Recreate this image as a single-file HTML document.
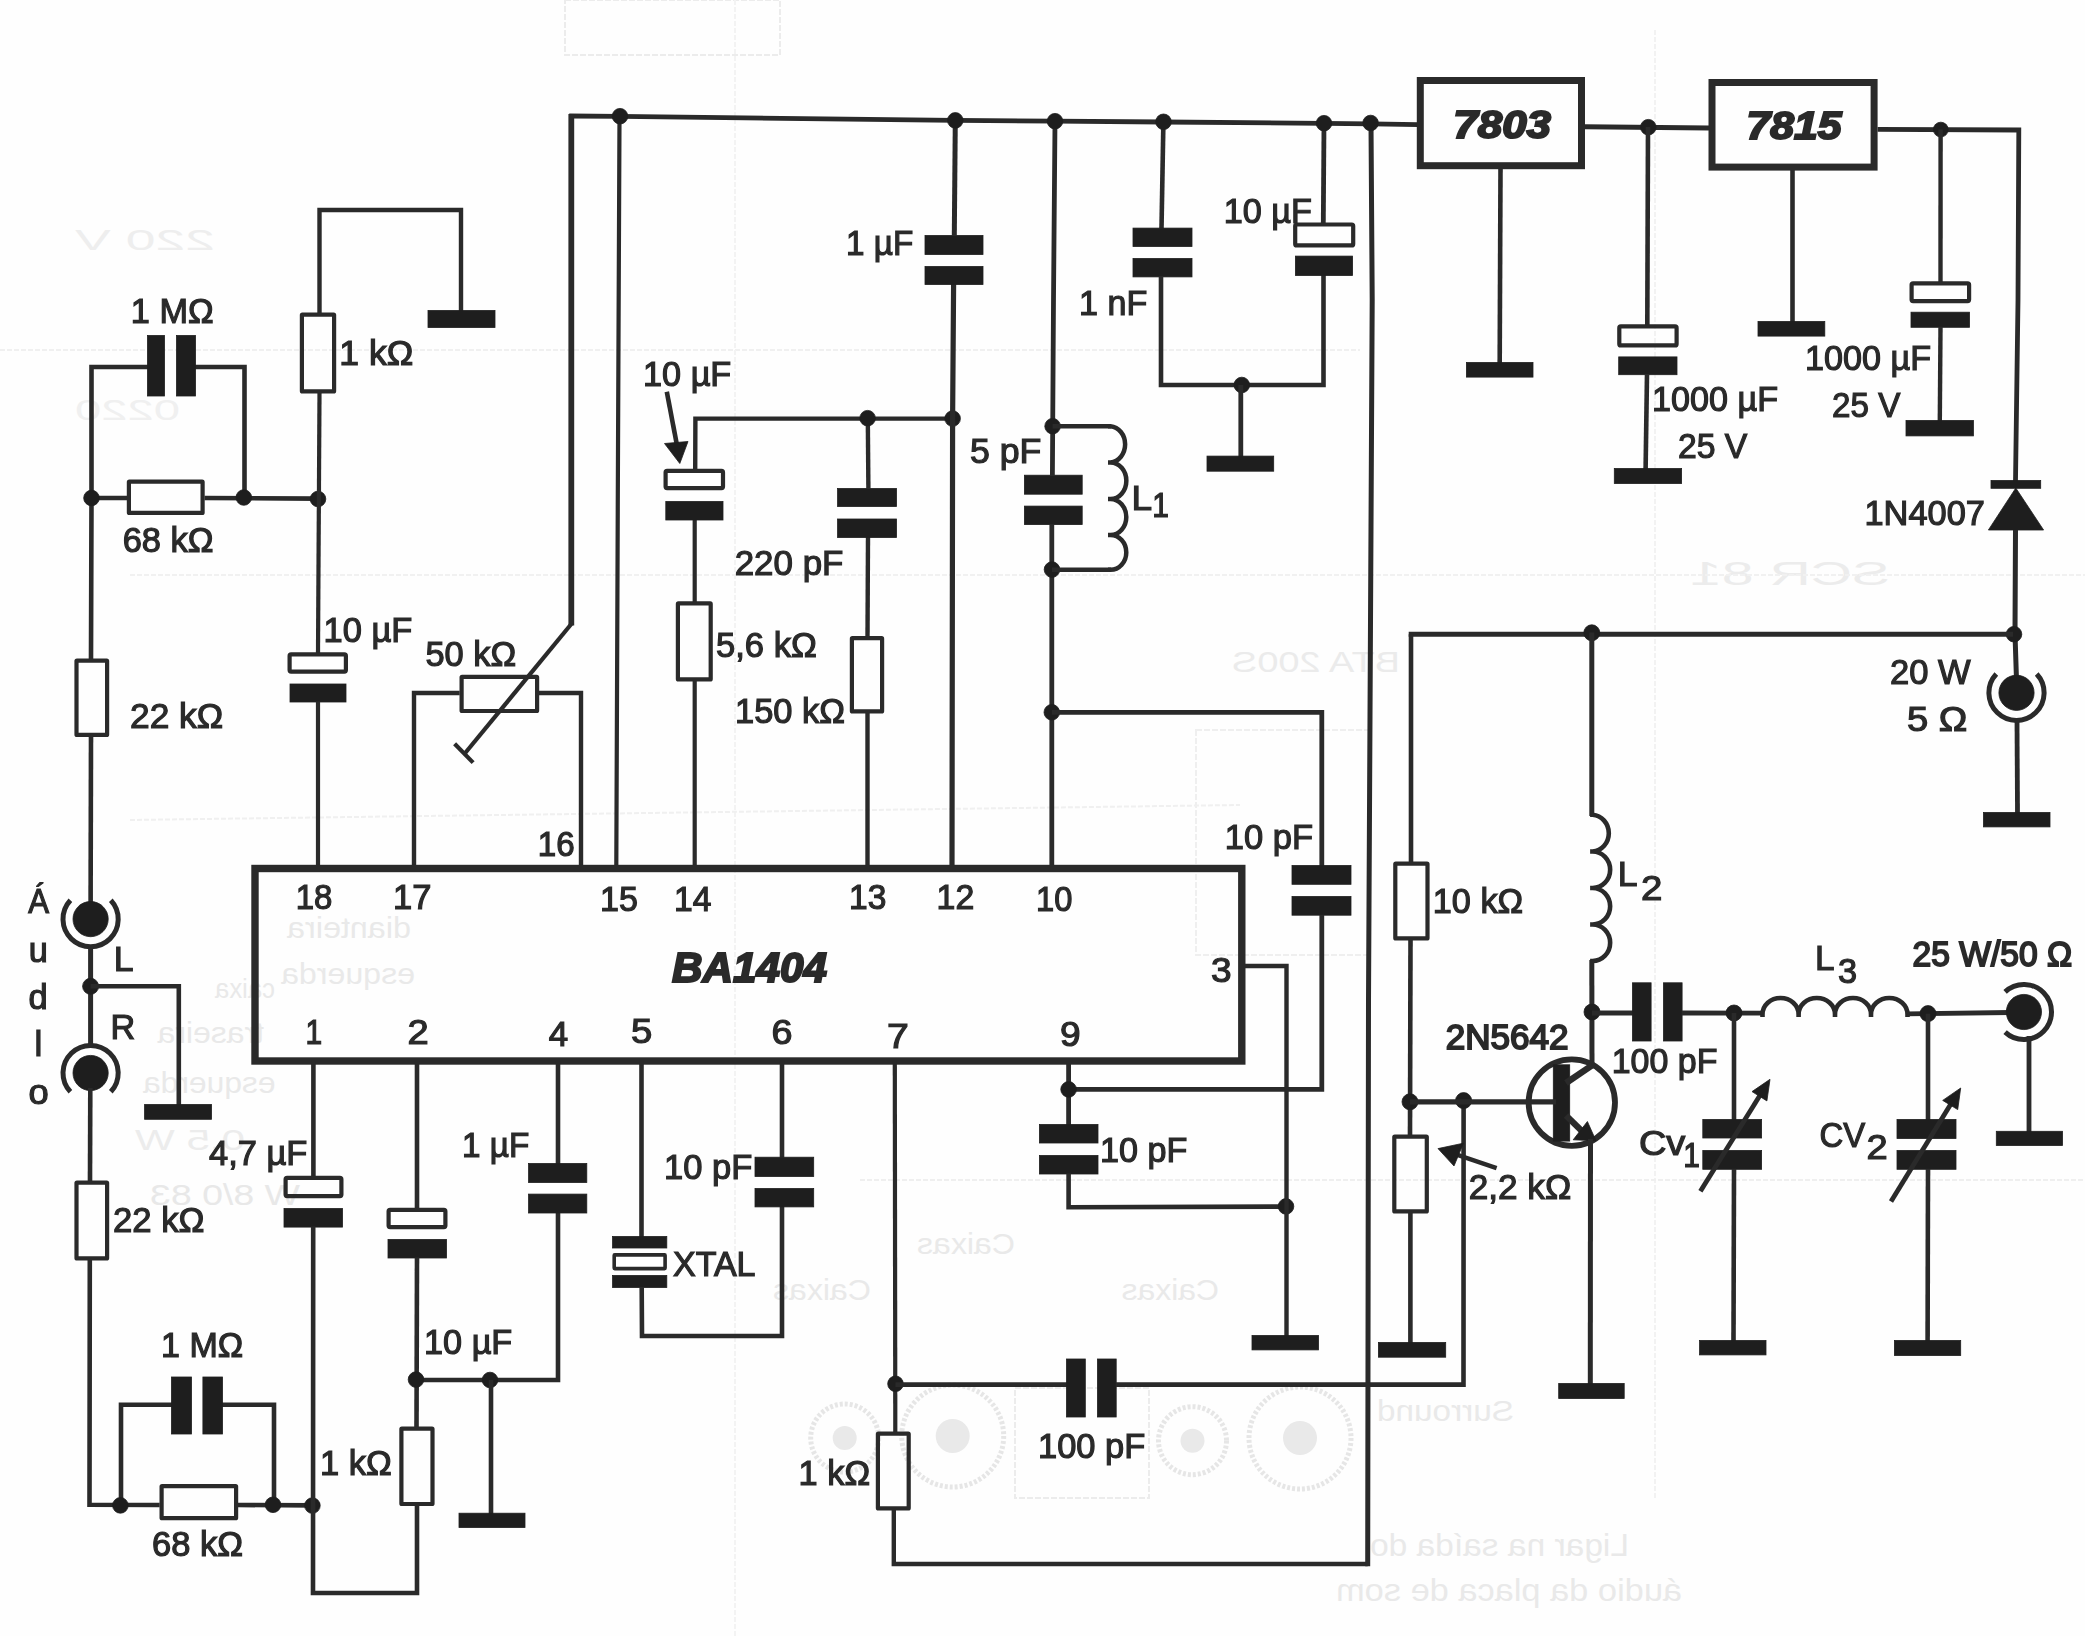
<!DOCTYPE html>
<html><head><meta charset="utf-8"><title>BA1404 FM stereo transmitter schematic</title>
<style>
html,body{margin:0;padding:0;background:#fff;}
body{width:2085px;height:1636px;overflow:hidden;font-family:"Liberation Sans",sans-serif;}
svg{display:block}
svg path,svg rect.h,svg circle.h{fill:none;stroke:#2a2a2a}
svg .f{fill:#1e1e1e;stroke:#1e1e1e;stroke-width:0.8}
svg rect.h{fill:none}
#ghost text{stroke:none}
#wires,#labels{filter:blur(0.45px)}
svg text{font-family:"Liberation Sans",sans-serif;fill:#2a2a2a;stroke:#2a2a2a;}
svg .t{font-size:35px;stroke-width:1.2px}
svg .tk{stroke-width:1.9px}
svg .tb2{font-size:39px !important}
svg .tb{font-size:42px;font-weight:bold;font-style:italic;stroke-width:2.1px}
</style></head><body>
<svg width="2085" height="1636" viewBox="0 0 2085 1636">
<rect x="0" y="0" width="2085" height="1636" fill="#fefefe"/>
<g id="ghost" style="font-family:'Liberation Sans',sans-serif">
<circle cx="844.7" cy="1438.0" r="34.0" style="fill:none;stroke:#e6e6e6;stroke-width:5;stroke-dasharray:3 2"/>
<circle cx="844.7" cy="1438.0" r="12.0" style="fill:#e9e9e9;stroke:none"/>
<circle cx="952.7" cy="1436.0" r="51.0" style="fill:none;stroke:#e6e6e6;stroke-width:5;stroke-dasharray:3 2"/>
<circle cx="952.7" cy="1436.0" r="17.0" style="fill:#e9e9e9;stroke:none"/>
<circle cx="1192.5" cy="1440.7" r="34.0" style="fill:none;stroke:#e6e6e6;stroke-width:5;stroke-dasharray:3 2"/>
<circle cx="1192.5" cy="1440.7" r="12.0" style="fill:#e9e9e9;stroke:none"/>
<circle cx="1300.0" cy="1438.0" r="51.0" style="fill:none;stroke:#e6e6e6;stroke-width:5;stroke-dasharray:3 2"/>
<circle cx="1300.0" cy="1438.0" r="17.0" style="fill:#e9e9e9;stroke:none"/>
<text transform="translate(1514.0 1421.0) scale(-1 1)" textLength="137.0" lengthAdjust="spacingAndGlyphs" style="font-size:30px;fill:#e9e9e9;stroke:none">Surround</text>
<text transform="translate(1629.0 1556.0) scale(-1 1)" textLength="259.0" lengthAdjust="spacingAndGlyphs" style="font-size:32px;fill:#e9e9e9;stroke:none">Ligar na saída do</text>
<text transform="translate(1682.0 1601.0) scale(-1 1)" textLength="346.0" lengthAdjust="spacingAndGlyphs" style="font-size:32px;fill:#e9e9e9;stroke:none">áudio da placa de som</text>
<text transform="translate(411.0 937.7) scale(-1 1)" textLength="124.0" lengthAdjust="spacingAndGlyphs" style="font-size:30px;fill:#e9e9e9;stroke:none">dianteira</text>
<text transform="translate(415.0 983.7) scale(-1 1)" textLength="134.0" lengthAdjust="spacingAndGlyphs" style="font-size:30px;fill:#e9e9e9;stroke:none">esquerda</text>
<text transform="translate(275.0 998.0) scale(-1 1)" textLength="60.0" lengthAdjust="spacingAndGlyphs" style="font-size:28px;fill:#e9e9e9;stroke:none">caixa</text>
<text transform="translate(264.0 1043.0) scale(-1 1)" textLength="106.5" lengthAdjust="spacingAndGlyphs" style="font-size:30px;fill:#e9e9e9;stroke:none">traseira</text>
<text transform="translate(275.5 1093.0) scale(-1 1)" textLength="132.5" lengthAdjust="spacingAndGlyphs" style="font-size:30px;fill:#e9e9e9;stroke:none">esquerda</text>
<text transform="translate(1015.0 1254.0) scale(-1 1)" textLength="98.0" lengthAdjust="spacingAndGlyphs" style="font-size:30px;fill:#e9e9e9;stroke:none">Caixas</text>
<text transform="translate(871.0 1300.0) scale(-1 1)" textLength="98.0" lengthAdjust="spacingAndGlyphs" style="font-size:30px;fill:#e9e9e9;stroke:none">Caixas</text>
<text transform="translate(1219.0 1300.0) scale(-1 1)" textLength="97.5" lengthAdjust="spacingAndGlyphs" style="font-size:30px;fill:#e9e9e9;stroke:none">Caixas</text>
<text transform="translate(245.0 1150.0) scale(-1 1)" textLength="110.0" lengthAdjust="spacingAndGlyphs" style="font-size:30px;fill:#ececec;stroke:none">0,5 W</text>
<text transform="translate(300.0 1205.0) scale(-1 1)" textLength="150.0" lengthAdjust="spacingAndGlyphs" style="font-size:30px;fill:#e8e8e8;stroke:none">W 8/0 83</text>
<text transform="translate(1400.0 672.0) scale(-1 1)" textLength="168.0" lengthAdjust="spacingAndGlyphs" style="font-size:30px;fill:#ebebeb;stroke:none">BTA 200S</text>
<text transform="translate(1890.0 585.0) scale(-1 1)" textLength="200.0" lengthAdjust="spacingAndGlyphs" style="font-size:34px;fill:#ececec;stroke:none">SCR 81</text>
<text transform="translate(215.0 250.0) scale(-1 1)" textLength="140.0" lengthAdjust="spacingAndGlyphs" style="font-size:30px;fill:#eeeeee;stroke:none">220 V</text>
<text transform="translate(180.0 420.0) scale(-1 1)" textLength="105.0" lengthAdjust="spacingAndGlyphs" style="font-size:30px;fill:#f0f0f0;stroke:none">0220</text>
<rect x="565.0" y="0.0" width="215.0" height="55.0" style="fill:none;stroke:#ececec;stroke-width:2.0;stroke-dasharray:6 2"/>
<rect x="1015.0" y="1388.0" width="134.0" height="110.0" style="fill:none;stroke:#ececec;stroke-width:2.0;stroke-dasharray:6 2"/>
<rect x="1196.0" y="730.0" width="174.0" height="225.0" style="fill:none;stroke:#efefef;stroke-width:2.0;stroke-dasharray:6 2"/>
<path d="M0.0 350.0 L1360.0 350.0" style="fill:none;stroke:#f0f0f0;stroke-width:2.0;stroke-dasharray:5 2"/>
<path d="M130.0 575.0 L2085.0 575.0" style="fill:none;stroke:#f1f1f1;stroke-width:2.0;stroke-dasharray:5 2"/>
<path d="M735.0 0.0 L735.0 1636.0" style="fill:none;stroke:#f3f3f3;stroke-width:2.0;stroke-dasharray:5 2"/>
<path d="M1655.0 30.0 L1655.0 1500.0" style="fill:none;stroke:#f2f2f2;stroke-width:2.0;stroke-dasharray:5 2"/>
<path d="M130.0 820.0 L1240.0 805.0" style="fill:none;stroke:#f0f0f0;stroke-width:2.0;stroke-dasharray:5 2"/>
<path d="M860.0 1180.0 L2085.0 1180.0" style="fill:none;stroke:#efefef;stroke-width:2.0;stroke-dasharray:5 2"/>
</g>
<g id="wires">
<path d="M569.2 116.0 L620.0 116.4 L955.0 120.4 L1055.0 121.2 L1163.0 122.0 L1324.0 123.3 L1371.0 123.8 L1418.0 124.6" stroke-width="4.8" stroke-linecap="butt" stroke-linejoin="miter"/>
<path d="M571.3 114.0 L571.3 625.5" stroke-width="5.8" stroke-linecap="butt" stroke-linejoin="miter"/>
<path d="M619.5 116.0 L618.0 450.0 L616.3 866.0" stroke-width="4.2" stroke-linecap="butt" stroke-linejoin="miter"/>
<circle cx="620.0" cy="116.2" r="7.8" class="f"/>
<path d="M148.0 367.0 L91.5 367.0 L91.5 498.0 L91.0 659.0" stroke-width="4.6" stroke-linecap="butt" stroke-linejoin="miter"/>
<path d="M195.0 367.0 L244.5 367.0 L244.5 497.0" stroke-width="4.6" stroke-linecap="butt" stroke-linejoin="miter"/>
<path d="M91.5 498.0 L127.0 498.0" stroke-width="4.6" stroke-linecap="butt" stroke-linejoin="miter"/>
<path d="M204.5 498.0 L318.0 498.6" stroke-width="4.6" stroke-linecap="butt" stroke-linejoin="miter"/>
<rect x="147.5" y="335.5" width="17.0" height="60.5" class="f"/>
<rect x="176.5" y="335.5" width="19.0" height="60.5" class="f"/>
<rect x="128.9" y="481.6" width="73.7" height="31.3" rx="0.5" stroke-width="4.2" class="h"/>
<circle cx="91.5" cy="498.0" r="7.8" class="f"/>
<circle cx="243.8" cy="497.5" r="7.8" class="f"/>
<circle cx="318.0" cy="499.0" r="7.8" class="f"/>
<rect x="76.5" y="660.6" width="30.6" height="74.3" rx="0.5" stroke-width="4.2" class="h"/>
<path d="M91.0 736.5 L90.6 905.0" stroke-width="4.6" stroke-linecap="butt" stroke-linejoin="miter"/>
<path d="M319.5 313.0 L319.5 210.0 L461.0 210.0 L461.0 312.0" stroke-width="4.4" stroke-linecap="butt" stroke-linejoin="miter"/>
<rect x="428.0" y="310.5" width="67.0" height="17.0" class="f"/>
<rect x="301.9" y="314.6" width="32.2" height="76.8" rx="0.5" stroke-width="4.2" class="h"/>
<path d="M319.5 393.0 L318.0 653.5" stroke-width="4.2" stroke-linecap="butt" stroke-linejoin="miter"/>
<rect x="289.6" y="654.4" width="56.3" height="17.2" rx="1.5" stroke-width="4.2" class="h"/>
<rect x="290.0" y="684.0" width="56.0" height="18.0" class="f"/>
<path d="M318.0 701.5 L318.0 866.0" stroke-width="4.2" stroke-linecap="butt" stroke-linejoin="miter"/>
<path d="M414.0 866.0 L414.0 693.0 L459.7 693.0" stroke-width="4.4" stroke-linecap="butt" stroke-linejoin="miter"/>
<rect x="461.6" y="676.8" width="75.5" height="34.2" rx="0.5" stroke-width="4.2" class="h"/>
<path d="M539.0 693.0 L581.0 693.0 L581.0 866.0" stroke-width="4.4" stroke-linecap="butt" stroke-linejoin="miter"/>
<path d="M571.3 624.0 L465.2 753.0" stroke-width="4.2" stroke-linecap="butt" stroke-linejoin="miter"/>
<path d="M454.6 743.8 L473.1 762.6" stroke-width="4.2" stroke-linecap="butt" stroke-linejoin="miter"/>
<circle cx="90.6" cy="919.1" r="17.6" class="f"/>
<path d="M110.8 900.3 A27.6 27.6 0 1 1 70.4 900.3" stroke-width="5.0"/>
<circle cx="90.6" cy="1073.0" r="17.6" class="f"/>
<path d="M70.4 1091.8 A27.6 27.6 0 1 1 110.8 1091.8" stroke-width="5.0"/>
<path d="M90.6 946.0 L90.6 1046.0" stroke-width="5.0" stroke-linecap="butt" stroke-linejoin="miter"/>
<circle cx="90.6" cy="986.3" r="8.0" class="f"/>
<path d="M90.6 986.3 L178.8 986.3 L178.8 1106.0" stroke-width="4.6" stroke-linecap="butt" stroke-linejoin="miter"/>
<rect x="144.6" y="1104.5" width="66.9" height="14.8" class="f"/>
<path d="M90.3 1088.0 L90.0 1181.0" stroke-width="4.6" stroke-linecap="butt" stroke-linejoin="miter"/>
<rect x="76.5" y="1182.6" width="30.6" height="75.8" rx="0.5" stroke-width="4.2" class="h"/>
<path d="M89.8 1260.0 L89.5 1504.8 L159.7 1505.0" stroke-width="4.6" stroke-linecap="butt" stroke-linejoin="miter"/>
<path d="M238.0 1505.0 L313.0 1505.4" stroke-width="4.6" stroke-linecap="butt" stroke-linejoin="miter"/>
<rect x="161.6" y="1486.1" width="74.5" height="32.1" rx="0.5" stroke-width="4.2" class="h"/>
<path d="M172.0 1404.8 L121.0 1404.8 L121.0 1505.0" stroke-width="4.6" stroke-linecap="butt" stroke-linejoin="miter"/>
<path d="M222.0 1404.8 L274.0 1404.8 L274.0 1505.0" stroke-width="4.6" stroke-linecap="butt" stroke-linejoin="miter"/>
<rect x="171.5" y="1377.0" width="20.0" height="57.0" class="f"/>
<rect x="202.9" y="1377.0" width="19.6" height="57.0" class="f"/>
<circle cx="120.4" cy="1505.4" r="7.8" class="f"/>
<circle cx="273.0" cy="1504.8" r="7.8" class="f"/>
<circle cx="312.4" cy="1505.6" r="7.8" class="f"/>
<rect x="255" y="868.5" width="986.8" height="192.5" stroke-width="7.4" class="h"/>
<path d="M313.4 1061.0 L313.4 1177.0" stroke-width="4.6" stroke-linecap="butt" stroke-linejoin="miter"/>
<rect x="285.6" y="1177.9" width="55.8" height="18.2" rx="1.5" stroke-width="4.2" class="h"/>
<rect x="284.0" y="1208.5" width="58.5" height="18.6" class="f"/>
<path d="M313.2 1226.6 L313.0 1593.0 L417.0 1593.0 L417.0 1505.0" stroke-width="4.6" stroke-linecap="butt" stroke-linejoin="miter"/>
<path d="M417.0 1061.0 L417.0 1209.0" stroke-width="4.6" stroke-linecap="butt" stroke-linejoin="miter"/>
<rect x="388.6" y="1209.9" width="56.8" height="17.2" rx="1.5" stroke-width="4.2" class="h"/>
<rect x="388.0" y="1239.5" width="58.5" height="18.5" class="f"/>
<path d="M417.0 1257.5 L416.5 1427.0" stroke-width="4.6" stroke-linecap="butt" stroke-linejoin="miter"/>
<rect x="401.4" y="1428.6" width="31.1" height="75.4" rx="0.5" stroke-width="4.2" class="h"/>
<path d="M416.0 1380.0 L558.0 1380.0 L558.0 1212.5" stroke-width="4.6" stroke-linecap="butt" stroke-linejoin="miter"/>
<circle cx="416.0" cy="1379.6" r="7.8" class="f"/>
<circle cx="490.0" cy="1380.0" r="7.8" class="f"/>
<path d="M491.0 1380.0 L491.0 1514.5" stroke-width="4.6" stroke-linecap="butt" stroke-linejoin="miter"/>
<rect x="459.0" y="1513.2" width="66.0" height="14.3" class="f"/>
<path d="M558.0 1061.0 L558.0 1164.0" stroke-width="4.6" stroke-linecap="butt" stroke-linejoin="miter"/>
<rect x="528.6" y="1163.5" width="58.2" height="19.0" class="f"/>
<rect x="528.6" y="1194.1" width="58.2" height="18.9" class="f"/>
<path d="M641.5 1061.0 L641.5 1237.0" stroke-width="4.6" stroke-linecap="butt" stroke-linejoin="miter"/>
<rect x="612.6" y="1236.5" width="54.2" height="11.5" class="f"/>
<rect x="614.2" y="1254.9" width="50.9" height="13.7" rx="0.5" stroke-width="3.6" class="h"/>
<rect x="612.6" y="1275.5" width="54.2" height="12.0" class="f"/>
<path d="M641.7 1287.0 L642.0 1336.0 L782.0 1336.0 L782.0 1206.0" stroke-width="4.6" stroke-linecap="butt" stroke-linejoin="miter"/>
<path d="M782.0 1061.0 L782.0 1157.7" stroke-width="4.6" stroke-linecap="butt" stroke-linejoin="miter"/>
<rect x="755.0" y="1157.2" width="58.7" height="19.3" class="f"/>
<rect x="755.0" y="1188.5" width="58.7" height="18.4" class="f"/>
<path d="M694.7 866.0 L694.7 680.0" stroke-width="4.2" stroke-linecap="butt" stroke-linejoin="miter"/>
<rect x="677.9" y="603.4" width="32.8" height="76.0" rx="0.5" stroke-width="4.2" class="h"/>
<path d="M694.7 603.0 L694.7 519.5" stroke-width="4.2" stroke-linecap="butt" stroke-linejoin="miter"/>
<rect x="665.6" y="470.9" width="57.4" height="17.2" rx="1.5" stroke-width="4.2" class="h"/>
<rect x="665.8" y="501.5" width="57.2" height="18.5" class="f"/>
<path d="M695.2 470.0 L695.4 418.6 L952.6 418.6" stroke-width="4.4" stroke-linecap="butt" stroke-linejoin="miter"/>
<path d="M666.8 391.7 L677.5 448.0" stroke-width="4.6" stroke-linecap="butt" stroke-linejoin="miter"/>
<path d="M664.5 443.5 L688 441.5 L679.8 463.5 Z" class="f" stroke-width="1"/>
<path d="M867.5 866.0 L867.5 713.0" stroke-width="4.4" stroke-linecap="butt" stroke-linejoin="miter"/>
<rect x="851.9" y="638.2" width="30.2" height="73.2" rx="0.5" stroke-width="4.2" class="h"/>
<path d="M867.5 636.6 L868.0 537.0" stroke-width="4.4" stroke-linecap="butt" stroke-linejoin="miter"/>
<rect x="837.6" y="488.5" width="58.9" height="18.0" class="f"/>
<rect x="837.6" y="519.0" width="58.9" height="18.5" class="f"/>
<path d="M868.4 489.0 L867.8 418.0" stroke-width="4.4" stroke-linecap="butt" stroke-linejoin="miter"/>
<circle cx="867.6" cy="418.2" r="7.8" class="f"/>
<circle cx="952.6" cy="418.6" r="7.8" class="f"/>
<path d="M952.0 866.0 L952.6 418.6 L953.6 284.0" stroke-width="5.2" stroke-linecap="butt" stroke-linejoin="miter"/>
<rect x="925.0" y="235.5" width="58.0" height="19.0" class="f"/>
<rect x="925.0" y="266.5" width="58.0" height="18.0" class="f"/>
<path d="M954.3 236.0 L955.3 120.4" stroke-width="5.0" stroke-linecap="butt" stroke-linejoin="miter"/>
<circle cx="955.3" cy="120.4" r="7.8" class="f"/>
<path d="M1051.8 866.0 L1051.8 524.5" stroke-width="4.8" stroke-linecap="butt" stroke-linejoin="miter"/>
<rect x="1024.4" y="475.2" width="57.8" height="19.0" class="f"/>
<rect x="1024.4" y="506.1" width="57.8" height="18.5" class="f"/>
<path d="M1052.4 475.8 L1053.5 300.0 L1055.0 121.0" stroke-width="4.8" stroke-linecap="butt" stroke-linejoin="miter"/>
<circle cx="1055.0" cy="121.2" r="7.8" class="f"/>
<circle cx="1052.6" cy="426.2" r="7.8" class="f"/>
<circle cx="1052.0" cy="569.6" r="7.8" class="f"/>
<circle cx="1051.8" cy="712.3" r="7.8" class="f"/>
<path d="M1052.6 426.2 L1111.0 426.2" stroke-width="4.4" stroke-linecap="butt" stroke-linejoin="miter"/>
<path d="M1108.0 426.2 L1110.5 426.2 A15.8 18.2 0 0 1 1110.5 462.5 L1108.0 462.5 M1108.0 462.5 L1110.5 462.5 A15.8 18.2 0 0 1 1110.5 499.0 L1108.0 499.0 M1108.0 499.0 L1110.5 499.0 A15.8 18.0 0 0 1 1110.5 535.0 L1108.0 535.0 M1108.0 535.0 L1110.5 535.0 A15.8 17.4 0 0 1 1110.5 569.8 L1108.0 569.8 " stroke-width="4.5" stroke-linejoin="round"/>
<path d="M1052.0 569.8 L1111.0 569.8" stroke-width="4.4" stroke-linecap="butt" stroke-linejoin="miter"/>
<path d="M1051.8 712.3 L1321.8 712.3 L1321.8 866.0" stroke-width="4.8" stroke-linecap="butt" stroke-linejoin="miter"/>
<rect x="1292.0" y="865.5" width="59.0" height="18.8" class="f"/>
<rect x="1292.0" y="896.5" width="59.0" height="18.7" class="f"/>
<path d="M1321.8 914.7 L1321.8 1089.4 L1068.6 1089.4" stroke-width="4.8" stroke-linecap="butt" stroke-linejoin="miter"/>
<path d="M1068.6 1061.0 L1068.6 1125.0" stroke-width="4.8" stroke-linecap="butt" stroke-linejoin="miter"/>
<circle cx="1068.6" cy="1089.4" r="7.8" class="f"/>
<rect x="1039.4" y="1124.5" width="58.6" height="18.5" class="f"/>
<rect x="1039.4" y="1155.5" width="58.6" height="18.5" class="f"/>
<path d="M1068.6 1173.5 L1068.6 1207.2 L1286.0 1206.6" stroke-width="4.6" stroke-linecap="butt" stroke-linejoin="miter"/>
<circle cx="1286.0" cy="1206.4" r="7.8" class="f"/>
<path d="M1245.0 966.0 L1286.5 966.0 L1286.5 1336.5" stroke-width="4.4" stroke-linecap="butt" stroke-linejoin="miter"/>
<rect x="1252.0" y="1335.5" width="66.5" height="14.4" class="f"/>
<path d="M894.8 1061.0 L895.3 1432.0" stroke-width="4.2" stroke-linecap="butt" stroke-linejoin="miter"/>
<circle cx="895.5" cy="1383.8" r="7.8" class="f"/>
<rect x="877.9" y="1433.6" width="30.8" height="74.8" rx="0.5" stroke-width="4.2" class="h"/>
<path d="M893.8 1510.0 L893.8 1564.0 L1367.7 1564.0" stroke-width="4.4" stroke-linecap="butt" stroke-linejoin="miter"/>
<path d="M1367.7 1566.2 L1368.5 1000.0 L1372.2 300.0 L1371.0 123.8" stroke-width="5.0" stroke-linecap="butt" stroke-linejoin="miter"/>
<circle cx="1370.6" cy="123.0" r="7.8" class="f"/>
<path d="M895.5 1384.6 L1067.0 1384.6" stroke-width="4.6" stroke-linecap="butt" stroke-linejoin="miter"/>
<rect x="1066.5" y="1359.0" width="18.8" height="58.0" class="f"/>
<rect x="1097.5" y="1359.0" width="18.7" height="58.0" class="f"/>
<path d="M1115.7 1384.6 L1463.5 1384.6 L1463.6 1100.3" stroke-width="4.6" stroke-linecap="butt" stroke-linejoin="miter"/>
<path d="M1163.4 121.8 L1161.5 228.6" stroke-width="4.6" stroke-linecap="butt" stroke-linejoin="miter"/>
<circle cx="1163.5" cy="121.8" r="7.8" class="f"/>
<rect x="1133.0" y="228.1" width="59.0" height="18.4" class="f"/>
<rect x="1133.0" y="258.5" width="59.0" height="18.4" class="f"/>
<path d="M1161.0 276.4 L1161.0 385.0 L1323.5 385.0 L1323.5 275.0" stroke-width="4.6" stroke-linecap="butt" stroke-linejoin="miter"/>
<rect x="1295.2" y="224.5" width="58.0" height="20.9" rx="1.5" stroke-width="4.2" class="h"/>
<rect x="1295.4" y="256.1" width="57.2" height="19.4" class="f"/>
<path d="M1323.3 223.6 L1324.0 123.0" stroke-width="4.8" stroke-linecap="butt" stroke-linejoin="miter"/>
<circle cx="1324.0" cy="123.2" r="7.8" class="f"/>
<circle cx="1241.8" cy="385.0" r="7.8" class="f"/>
<path d="M1240.8 385.0 L1240.8 457.0" stroke-width="4.8" stroke-linecap="butt" stroke-linejoin="miter"/>
<rect x="1207.0" y="456.1" width="66.7" height="15.1" class="f"/>
<rect x="1420.3" y="80.5" width="161.2" height="85.2" stroke-width="7.0" class="h"/>
<rect x="1712.0" y="82.5" width="162.1" height="84.6" stroke-width="7.0" class="h"/>
<path d="M1500.5 169.0 L1499.7 363.5" stroke-width="4.6" stroke-linecap="butt" stroke-linejoin="miter"/>
<rect x="1466.4" y="362.5" width="66.6" height="14.6" class="f"/>
<path d="M1585.0 126.8 L1709.0 128.0" stroke-width="5.0" stroke-linecap="butt" stroke-linejoin="miter"/>
<circle cx="1648.3" cy="127.2" r="7.8" class="f"/>
<path d="M1648.0 127.0 L1647.3 325.5" stroke-width="4.6" stroke-linecap="butt" stroke-linejoin="miter"/>
<rect x="1619.3" y="326.4" width="57.3" height="19.0" rx="1.5" stroke-width="4.2" class="h"/>
<rect x="1618.7" y="356.9" width="58.3" height="17.8" class="f"/>
<path d="M1647.0 374.2 L1645.6 469.5" stroke-width="4.6" stroke-linecap="butt" stroke-linejoin="miter"/>
<rect x="1614.3" y="468.5" width="67.3" height="15.0" class="f"/>
<path d="M1792.5 170.0 L1792.5 322.5" stroke-width="4.6" stroke-linecap="butt" stroke-linejoin="miter"/>
<rect x="1758.0" y="321.5" width="66.8" height="14.6" class="f"/>
<path d="M1877.6 129.3 L2018.8 130.0 L2018.0 300.0 L2015.5 481.0" stroke-width="4.8" stroke-linecap="butt" stroke-linejoin="miter"/>
<circle cx="1940.8" cy="129.6" r="7.4" class="f"/>
<path d="M1940.6 129.5 L1940.5 282.4" stroke-width="4.4" stroke-linecap="butt" stroke-linejoin="miter"/>
<rect x="1911.6" y="283.3" width="57.5" height="17.8" rx="1.5" stroke-width="4.2" class="h"/>
<rect x="1911.0" y="312.2" width="58.5" height="15.1" class="f"/>
<path d="M1940.5 326.8 L1939.8 421.5" stroke-width="4.4" stroke-linecap="butt" stroke-linejoin="miter"/>
<rect x="1906.0" y="420.5" width="67.4" height="15.4" class="f"/>
<rect x="1991.0" y="480.5" width="49.7" height="7.8" class="f"/>
<path d="M2015.8 488 L2043.6 530 L1988.4 530 Z" class="f" stroke-width="1"/>
<path d="M2015.5 530.0 L2015.0 634.0 L2016.5 680.0" stroke-width="5.0" stroke-linecap="butt" stroke-linejoin="miter"/>
<circle cx="2014.0" cy="634.2" r="7.8" class="f"/>
<circle cx="2016.5" cy="692.8" r="17.6" class="f"/>
<path d="M2036.7 674.0 A27.6 27.6 0 1 1 1996.3 674.0" stroke-width="5.0"/>
<path d="M2017.0 720.0 L2017.5 813.5" stroke-width="4.8" stroke-linecap="butt" stroke-linejoin="miter"/>
<rect x="1983.5" y="812.5" width="66.5" height="14.4" class="f"/>
<path d="M1408.7 634.3 L2013.0 634.3" stroke-width="5.0" stroke-linecap="butt" stroke-linejoin="miter"/>
<path d="M1411.0 634.3 L1411.0 862.0" stroke-width="4.6" stroke-linecap="butt" stroke-linejoin="miter"/>
<rect x="1395.3" y="863.6" width="32.2" height="74.8" rx="0.5" stroke-width="4.2" class="h"/>
<path d="M1410.5 940.0 L1410.0 1135.0" stroke-width="4.6" stroke-linecap="butt" stroke-linejoin="miter"/>
<circle cx="1410.0" cy="1101.8" r="8.0" class="f"/>
<circle cx="1463.6" cy="1100.6" r="8.0" class="f"/>
<rect x="1394.3" y="1136.6" width="32.5" height="74.8" rx="0.5" stroke-width="4.2" class="h"/>
<path d="M1410.4 1213.0 L1410.4 1343.5" stroke-width="4.6" stroke-linecap="butt" stroke-linejoin="miter"/>
<rect x="1378.4" y="1342.5" width="67.3" height="14.7" class="f"/>
<circle cx="1591.8" cy="632.8" r="8.0" class="f"/>
<path d="M1591.8 632.6 L1591.8 816.0" stroke-width="5.0" stroke-linecap="butt" stroke-linejoin="miter"/>
<path d="M1590.1 814.8 L1592.6 814.8 A17.5 18.4 0 0 1 1592.6 851.5 L1590.1 851.5 M1590.1 851.5 L1592.6 851.5 A17.5 18.2 0 0 1 1592.6 888.0 L1590.1 888.0 M1590.1 888.0 L1592.6 888.0 A17.5 18.2 0 0 1 1592.6 924.5 L1590.1 924.5 M1590.1 924.5 L1592.6 924.5 A17.5 18.2 0 0 1 1592.6 961.0 L1590.1 961.0 " stroke-width="4.6" stroke-linejoin="round"/>
<path d="M1591.8 960.0 L1592.0 1066.0" stroke-width="5.0" stroke-linecap="butt" stroke-linejoin="miter"/>
<circle cx="1592.0" cy="1012.0" r="8.0" class="f"/>
<circle cx="1571.8" cy="1102.6" r="43.2" stroke-width="5.8" class="h" fill="none"/>
<rect x="1553.3" y="1064.8" width="16.4" height="76.3" class="f"/>
<path d="M1410.0 1101.8 L1556.0 1101.8" stroke-width="5.2" stroke-linecap="butt" stroke-linejoin="miter"/>
<path d="M1566.0 1083.0 L1592.4 1065.2" stroke-width="6.4" stroke-linecap="butt" stroke-linejoin="miter"/>
<path d="M1566.0 1115.5 L1588.0 1137.0" stroke-width="6.4" stroke-linecap="butt" stroke-linejoin="miter"/>
<path d="M1587.4 1121.5 L1573.2 1139.8 L1596 1140.8 Z" class="f" stroke-width="1"/>
<path d="M1590.5 1139.0 L1590.3 1384.5" stroke-width="5.0" stroke-linecap="butt" stroke-linejoin="miter"/>
<rect x="1558.7" y="1383.5" width="65.5" height="15.0" class="f"/>
<path d="M1496.6 1168.2 L1456.0 1154.4" stroke-width="4.4" stroke-linecap="butt" stroke-linejoin="miter"/>
<path d="M1438 1148.6 L1463.4 1143.2 L1454 1166 Z" class="f" stroke-width="1"/>
<path d="M1592.0 1013.0 L1633.0 1013.0" stroke-width="4.8" stroke-linecap="butt" stroke-linejoin="miter"/>
<rect x="1632.5" y="982.8" width="18.6" height="58.2" class="f"/>
<rect x="1663.5" y="982.8" width="18.6" height="58.2" class="f"/>
<path d="M1681.6 1013.0 L1762.5 1013.2" stroke-width="4.8" stroke-linecap="butt" stroke-linejoin="miter"/>
<circle cx="1734.0" cy="1013.0" r="8.0" class="f"/>
<path d="M1762.5 1016.9 L1762.5 1014.4 A18.0 16.4 0 0 1 1798.6 1014.4 L1798.6 1016.9 M1798.6 1016.9 L1798.6 1014.4 A18.2 16.4 0 0 1 1835.0 1014.4 L1835.0 1016.9 M1835.0 1016.9 L1835.0 1014.4 A18.0 16.4 0 0 1 1871.0 1014.4 L1871.0 1016.9 M1871.0 1016.9 L1871.0 1014.4 A18.2 16.4 0 0 1 1907.5 1014.4 L1907.5 1016.9 " stroke-width="4.6" stroke-linejoin="round"/>
<path d="M1906.5 1013.8 L2010.0 1012.5" stroke-width="4.8" stroke-linecap="butt" stroke-linejoin="miter"/>
<circle cx="1928.0" cy="1013.6" r="8.0" class="f"/>
<circle cx="2023.9" cy="1012.0" r="17.6" class="f"/>
<path d="M2005.1 991.8 A27.6 27.6 0 1 1 2005.1 1032.2" stroke-width="5.0"/>
<path d="M2029.0 1036.0 L2029.0 1132.5" stroke-width="4.8" stroke-linecap="butt" stroke-linejoin="miter"/>
<rect x="1996.3" y="1131.3" width="66.2" height="14.2" class="f"/>
<path d="M1734.0 1013.0 L1734.0 1120.0" stroke-width="4.6" stroke-linecap="butt" stroke-linejoin="miter"/>
<rect x="1702.8" y="1119.5" width="58.8" height="18.5" class="f"/>
<rect x="1702.8" y="1150.5" width="58.8" height="18.8" class="f"/>
<path d="M1734.0 1168.8 L1733.5 1341.5" stroke-width="4.6" stroke-linecap="butt" stroke-linejoin="miter"/>
<rect x="1699.6" y="1340.5" width="66.4" height="14.4" class="f"/>
<path d="M1700.4 1191.3 L1760.5 1094.6" stroke-width="4.8" stroke-linecap="butt" stroke-linejoin="miter"/>
<path d="M1770.0 1079.3 L1766.9 1100.9 L1752.0 1091.6 Z" class="f" stroke-width="1"/>
<path d="M1928.0 1013.7 L1928.0 1120.0" stroke-width="4.6" stroke-linecap="butt" stroke-linejoin="miter"/>
<rect x="1897.0" y="1119.5" width="59.0" height="19.0" class="f"/>
<rect x="1897.0" y="1150.5" width="59.0" height="18.8" class="f"/>
<path d="M1928.0 1168.8 L1927.6 1341.5" stroke-width="4.6" stroke-linecap="butt" stroke-linejoin="miter"/>
<rect x="1894.4" y="1340.5" width="66.3" height="15.0" class="f"/>
<path d="M1891.0 1201.4 L1951.3 1103.3" stroke-width="4.8" stroke-linecap="butt" stroke-linejoin="miter"/>
<path d="M1960.7 1088.0 L1957.7 1109.6 L1942.7 1100.4 Z" class="f" stroke-width="1"/>
</g>
<g id="labels">
<text x="130.8" y="322.6" textLength="82.8" lengthAdjust="spacingAndGlyphs" class="t">1 MΩ</text>
<text x="339.3" y="365.4" textLength="73.9" lengthAdjust="spacingAndGlyphs" class="t">1 kΩ</text>
<text x="122.7" y="551.8" textLength="90.9" lengthAdjust="spacingAndGlyphs" class="t">68 kΩ</text>
<text x="130.0" y="728.2" textLength="93.2" lengthAdjust="spacingAndGlyphs" class="t">22 kΩ</text>
<text x="323.5" y="642.0" textLength="88.8" lengthAdjust="spacingAndGlyphs" class="t">10 µF</text>
<text x="425.4" y="666.0" textLength="90.7" lengthAdjust="spacingAndGlyphs" class="t">50 kΩ</text>
<text x="537.8" y="855.8" textLength="36.9" lengthAdjust="spacingAndGlyphs" class="t">16</text>
<text x="295.7" y="908.8" textLength="36.7" lengthAdjust="spacingAndGlyphs" class="t">18</text>
<text x="393.0" y="908.8" textLength="38.4" lengthAdjust="spacingAndGlyphs" class="t">17</text>
<text x="600.1" y="911.3" textLength="37.9" lengthAdjust="spacingAndGlyphs" class="t">15</text>
<text x="674.1" y="910.8" textLength="37.4" lengthAdjust="spacingAndGlyphs" class="t">14</text>
<text x="849.1" y="908.8" textLength="37.3" lengthAdjust="spacingAndGlyphs" class="t">13</text>
<text x="936.6" y="908.8" textLength="37.7" lengthAdjust="spacingAndGlyphs" class="t">12</text>
<text x="1036.1" y="910.8" textLength="36.3" lengthAdjust="spacingAndGlyphs" class="t">10</text>
<text x="305.6" y="1043.8" textLength="16.7" lengthAdjust="spacingAndGlyphs" class="t">1</text>
<text x="407.4" y="1043.8" textLength="21.2" lengthAdjust="spacingAndGlyphs" class="t">2</text>
<text x="548.7" y="1045.8" textLength="19.4" lengthAdjust="spacingAndGlyphs" class="t">4</text>
<text x="630.9" y="1043.3" textLength="21.3" lengthAdjust="spacingAndGlyphs" class="t">5</text>
<text x="771.6" y="1043.8" textLength="21.0" lengthAdjust="spacingAndGlyphs" class="t">6</text>
<text x="886.9" y="1047.5" textLength="21.8" lengthAdjust="spacingAndGlyphs" class="t">7</text>
<text x="1059.9" y="1045.8" textLength="20.6" lengthAdjust="spacingAndGlyphs" class="t">9</text>
<text x="1210.9" y="981.8" textLength="20.6" lengthAdjust="spacingAndGlyphs" class="t">3</text>
<text x="672.0" y="981.8" textLength="154.9" lengthAdjust="spacingAndGlyphs" class="tb">BA1404</text>
<text x="28.3" y="912.8" textLength="20.8" lengthAdjust="spacingAndGlyphs" class="t">Á</text>
<text x="28.7" y="961.5" textLength="19.1" lengthAdjust="spacingAndGlyphs" class="t">u</text>
<text x="28.6" y="1009.4" textLength="19.2" lengthAdjust="spacingAndGlyphs" class="t">d</text>
<text x="34.6" y="1056.4" textLength="7.8" lengthAdjust="spacingAndGlyphs" class="t">l</text>
<text x="28.6" y="1104.3" textLength="20.2" lengthAdjust="spacingAndGlyphs" class="t">o</text>
<text x="113.7" y="970.6" textLength="19.8" lengthAdjust="spacingAndGlyphs" class="t">L</text>
<text x="110.4" y="1038.8" textLength="24.7" lengthAdjust="spacingAndGlyphs" class="t">R</text>
<text x="209.0" y="1164.8" textLength="98.4" lengthAdjust="spacingAndGlyphs" class="t">4,7 µF</text>
<text x="113.0" y="1232.4" textLength="91.5" lengthAdjust="spacingAndGlyphs" class="t">22 kΩ</text>
<text x="462.1" y="1157.4" textLength="67.2" lengthAdjust="spacingAndGlyphs" class="t">1 µF</text>
<text x="424.0" y="1353.5" textLength="88.3" lengthAdjust="spacingAndGlyphs" class="t">10 µF</text>
<text x="161.1" y="1357.3" textLength="82.1" lengthAdjust="spacingAndGlyphs" class="t">1 MΩ</text>
<text x="152.0" y="1555.8" textLength="91.1" lengthAdjust="spacingAndGlyphs" class="t">68 kΩ</text>
<text x="320.0" y="1475.2" textLength="71.8" lengthAdjust="spacingAndGlyphs" class="t">1 kΩ</text>
<text x="673.0" y="1275.8" textLength="82.5" lengthAdjust="spacingAndGlyphs" class="t">XTAL</text>
<text x="664.0" y="1178.6" textLength="88.3" lengthAdjust="spacingAndGlyphs" class="t">10 pF</text>
<text x="798.6" y="1485.3" textLength="71.5" lengthAdjust="spacingAndGlyphs" class="t">1 kΩ</text>
<text x="1038.0" y="1458.3" textLength="107.3" lengthAdjust="spacingAndGlyphs" class="t">100 pF</text>
<text x="1100.0" y="1161.8" textLength="87.3" lengthAdjust="spacingAndGlyphs" class="t">10 pF</text>
<text x="1224.7" y="849.3" textLength="88.3" lengthAdjust="spacingAndGlyphs" class="t">10 pF</text>
<text x="846.1" y="254.8" textLength="67.2" lengthAdjust="spacingAndGlyphs" class="t">1 µF</text>
<text x="643.0" y="385.8" textLength="88.3" lengthAdjust="spacingAndGlyphs" class="t">10 µF</text>
<text x="734.7" y="575.2" textLength="108.7" lengthAdjust="spacingAndGlyphs" class="t">220 pF</text>
<text x="716.0" y="656.6" textLength="100.9" lengthAdjust="spacingAndGlyphs" class="t">5,6 kΩ</text>
<text x="735.0" y="722.8" textLength="110.1" lengthAdjust="spacingAndGlyphs" class="t">150 kΩ</text>
<text x="970.0" y="463.1" textLength="71.4" lengthAdjust="spacingAndGlyphs" class="t">5 pF</text>
<text x="1131.4" y="510.2" textLength="20.6" lengthAdjust="spacingAndGlyphs" class="t">L</text>
<text x="1152.2" y="516.6" textLength="16.7" lengthAdjust="spacingAndGlyphs" class="t">1</text>
<text x="1079.0" y="315.2" textLength="68.3" lengthAdjust="spacingAndGlyphs" class="t">1 nF</text>
<text x="1223.7" y="222.8" textLength="88.3" lengthAdjust="spacingAndGlyphs" class="t">10 µF</text>
<text x="1453.3" y="137.8" textLength="97.7" lengthAdjust="spacingAndGlyphs" class="tb tb2">7803</text>
<text x="1746.6" y="139.3" textLength="95.0" lengthAdjust="spacingAndGlyphs" class="tb tb2">7815</text>
<text x="1652.0" y="410.8" textLength="126.0" lengthAdjust="spacingAndGlyphs" class="t">1000 µF</text>
<text x="1678.0" y="458.1" textLength="69.3" lengthAdjust="spacingAndGlyphs" class="t">25 V</text>
<text x="1805.0" y="369.8" textLength="126.0" lengthAdjust="spacingAndGlyphs" class="t">1000 µF</text>
<text x="1832.1" y="416.8" textLength="68.3" lengthAdjust="spacingAndGlyphs" class="t">25 V</text>
<text x="1864.5" y="524.8" textLength="120.4" lengthAdjust="spacingAndGlyphs" class="t">1N4007</text>
<text x="1890.0" y="683.5" textLength="80.7" lengthAdjust="spacingAndGlyphs" class="t">20 W</text>
<text x="1906.9" y="730.6" textLength="60.4" lengthAdjust="spacingAndGlyphs" class="t">5 Ω</text>
<text x="1432.8" y="913.1" textLength="90.3" lengthAdjust="spacingAndGlyphs" class="t">10 kΩ</text>
<text x="1617.7" y="886.2" textLength="19.8" lengthAdjust="spacingAndGlyphs" class="t">L</text>
<text x="1640.9" y="899.8" textLength="21.4" lengthAdjust="spacingAndGlyphs" class="t">2</text>
<text x="1815.0" y="970.3" textLength="19.5" lengthAdjust="spacingAndGlyphs" class="t">L</text>
<text x="1838.0" y="982.8" textLength="19.1" lengthAdjust="spacingAndGlyphs" class="t">3</text>
<text x="1912.6" y="966.3" textLength="159.5" lengthAdjust="spacingAndGlyphs" class="t tk">25 W/50 Ω</text>
<text x="1445.7" y="1048.8" textLength="122.8" lengthAdjust="spacingAndGlyphs" class="t tk">2N5642</text>
<text x="1611.7" y="1072.8" textLength="105.7" lengthAdjust="spacingAndGlyphs" class="t">100 pF</text>
<text x="1468.7" y="1198.8" textLength="102.5" lengthAdjust="spacingAndGlyphs" class="t">2,2 kΩ</text>
<text x="1638.9" y="1155.1" textLength="46.5" lengthAdjust="spacingAndGlyphs" class="t">Cv</text>
<text x="1683.2" y="1166.8" textLength="16.7" lengthAdjust="spacingAndGlyphs" class="t">1</text>
<text x="1819.5" y="1146.8" textLength="45.7" lengthAdjust="spacingAndGlyphs" class="t">CV</text>
<text x="1866.4" y="1158.5" textLength="21.2" lengthAdjust="spacingAndGlyphs" class="t">2</text>
</g>
</svg>
</body></html>
